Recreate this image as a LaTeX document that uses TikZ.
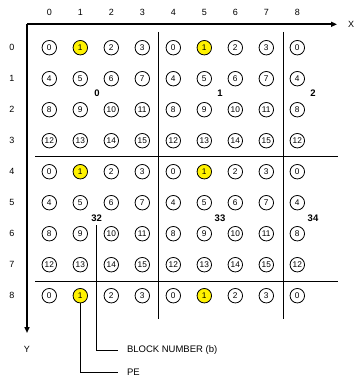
\documentclass[tikz,border=0pt]{standalone}
\usepackage{fontspec}
\setmainfont{Liberation Sans}
\usetikzlibrary{arrows.meta}
\begin{document}
\begin{tikzpicture}[x=1pt,y=-1pt,
  pe/.style={circle,draw,line width=0.8pt,minimum size=14.5pt,inner sep=0pt,font=\fontsize{8.3}{9}\selectfont},
  hot/.style={pe,fill=yellow},
  axlbl/.style={font=\fontsize{9}{10}\selectfont,inner sep=1pt},
  blk/.style={font=\fontsize{9.5}{10}\selectfont\bfseries,inner sep=3.3pt},
  divider/.style={line width=0.8pt},
  axis/.style={line width=1.6pt,-{Triangle[length=6pt,width=5pt]}},
  leader/.style={line width=0.7pt},
  callout/.style={font=\fontsize{9.5}{10}\selectfont,anchor=west,inner xsep=9pt,inner ysep=1pt,outer sep=0pt}]
\useasboundingbox (0,0) rectangle (354,377);
% axes
\coordinate (o) at (27,24.3);
\coordinate (xend) at (337,24.3);
\coordinate (yend) at (27,333);
\node[axlbl] (xl) at (351,24.3) {X};
\node[axlbl] (yl) at (27,349) {Y};
\draw[axis] (o) -- (xend);
\draw[axis] (o) -- (yend);
% column and row labels
\foreach \i in {0,...,8} {
  \node[axlbl] (col\i) at ({49.3+31*\i},12) {\i};
  \node[axlbl] (row\i) at (12,{47.7+31*\i}) {\i};
}
% block dividers
\coordinate (v1t) at (158.5,32); \coordinate (v1b) at (158.5,319);
\coordinate (v2t) at (283,32);   \coordinate (v2b) at (283,319);
\coordinate (h1l) at (35,156);   \coordinate (h1r) at (338,156);
\coordinate (h2l) at (35,281.5); \coordinate (h2r) at (338,281.5);
\draw[divider] (v1t) -- (v1b);
\draw[divider] (v2t) -- (v2b);
\draw[divider] (h1l) -- (h1r);
\draw[divider] (h2l) -- (h2r);
% PEs
\foreach \r in {0,...,8} {
  \foreach \c in {0,...,8} {
    \pgfmathtruncatemacro{\num}{mod(\r,4)*4+mod(\c,4)}
    \pgfmathtruncatemacro{\ishot}{(mod(\r,4)==0)&&(mod(\c,4)==1)}
    \ifnum\ishot=1
      \node[hot] (c-\r-\c) at ({49.3+31*\c},{47.7+31*\r}) {\num};
    \else
      \node[pe] (c-\r-\c) at ({49.3+31*\c},{47.7+31*\r}) {\num};
    \fi
  }
}
% block numbers
\node[blk] (b0) at (97,93) {0};
\node[blk] (b1) at (220,93) {1};
\node[blk] (b2) at (313,93) {2};
\node[blk] (b32) at (96.7,218.5) {32};
\node[blk] (b33) at (220,218.5) {33};
\node[blk] (b34) at (313,218.5) {34};
% callouts
\node[callout] (bn) at (118,350) {BLOCK NUMBER (b)};
\node[callout] (pel) at (118,372.5) {PE};
\draw[leader] (b32.south) |- (bn.west);
\draw[leader] (c-8-1.south) |- (pel.west);
\end{tikzpicture}
\end{document}
